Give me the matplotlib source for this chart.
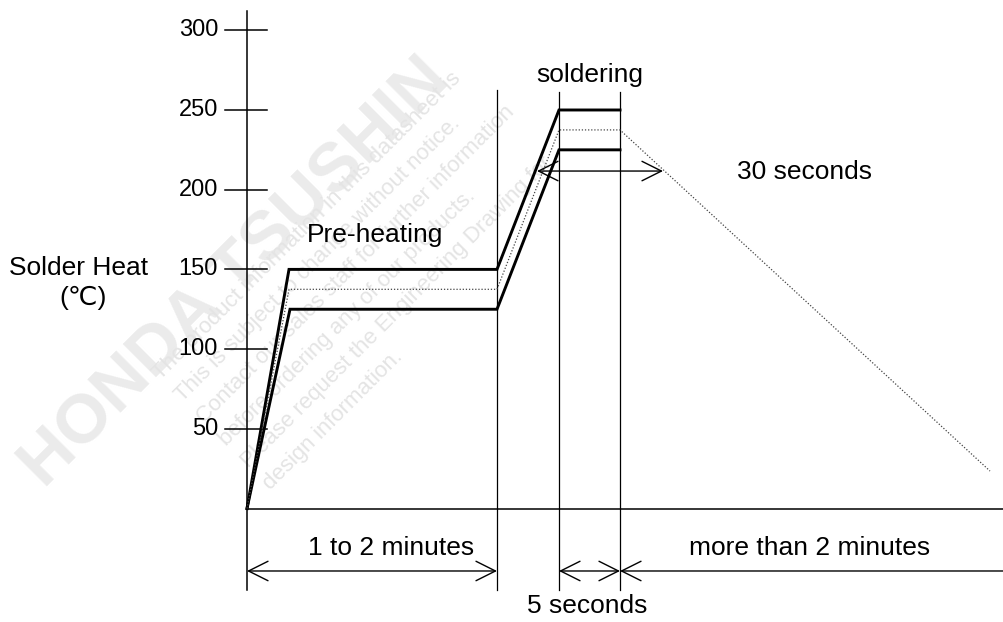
import matplotlib.pyplot as plt

plt.rcParams['font.family'] = ['Liberation Sans', 'DejaVu Sans']

# schematic time axis (not to scale), temperature in degC
upper_t = [0, 42, 250, 312, 373]
upper_T = [0, 150, 150, 250, 250]
lower_t = [0, 43, 250, 312, 373]
lower_T = [0, 125, 125, 225, 225]
mid_t = [0, 42, 250, 312, 373, 743]
mid_T = [0, 137.5, 137.5, 237.5, 237.5, 23.5]

yticks = [50, 100, 150, 200, 250, 300]
ytick_labels = ['50', '100', '150', '200', '250', '300']

# phase boundaries: preheat end, soldering start, soldering end
phase_t = [250, 312, 373]
phase_top = [262.5, 261, 261]

watermark_lines = [
    'The product information in this datasheet is',
    'This is subject to change without notice.',
    'Contact our sales staff for further information',
    'before ordering any of our products.',
    'Please request the Engineering Drawing for',
    'design information.',
]

fig = plt.figure(figsize=(10.04, 6.22), dpi=100)
ax = fig.add_axes([0, 0, 1, 1])
ax.set_xlim(-247, 757)
ax.set_ylim(-71.2, 319.0)
ax.axis('off')

# faint watermark, kept underneath everything else
ax.text(45 / 1004, 1 - 490 / 622, 'HONDA TSUSHIN', fontsize=50, fontweight='bold',
        color='#ebebeb', rotation=45, rotation_mode='anchor', ha='left', va='baseline',
        transform=fig.transFigure, zorder=0)
for i, line in enumerate(watermark_lines):
    x0 = 160 + i * 22
    y0 = 380 + i * 22
    ax.text(x0 / 1004, 1 - y0 / 622, line, fontsize=16, color='#e4e4e4',
            rotation=45, rotation_mode='anchor', ha='left', va='baseline',
            transform=fig.transFigure, zorder=0)

# axes
ax.plot([0, 0], [-51, 312], color='black', lw=1.1, zorder=3)
ax.plot([0, 757], [0, 0], color='black', lw=1.1, zorder=3)
for T, lab in zip(yticks, ytick_labels):
    ax.plot([-22, 20], [T, T], color='black', lw=1.1, zorder=3)
    ax.text(-29, T, lab, ha='right', va='center', fontsize=17, zorder=3)

# phase guides
for t, top in zip(phase_t, phase_top):
    ax.plot([t, t], [-51, top], color='black', lw=0.9, zorder=3)

# profile envelope
ax.plot(upper_t, upper_T, color='black', lw=2.1, solid_joinstyle='miter', zorder=4)
ax.plot(lower_t, lower_T, color='black', lw=2.1, solid_joinstyle='miter', zorder=4)
ax.plot(mid_t, mid_T, color='#444444', lw=0.9, linestyle=(0, (1, 1.5)), zorder=4)

arrow = dict(arrowstyle='<->,head_length=1.4,head_width=0.7', mutation_scale=10,
             color='black', lw=1.0, shrinkA=0, shrinkB=0)
arrow_one = dict(arrowstyle='->,head_length=1.4,head_width=0.7', mutation_scale=10,
                 color='black', lw=1.0, shrinkA=0, shrinkB=0)

# 30 seconds above solder temperature
ax.annotate('', xy=(416, 211.7), xytext=(290, 211.7), arrowprops=arrow, zorder=4)
# time spans below the axis
ax.annotate('', xy=(250, -39.2), xytext=(0, -39.2), arrowprops=arrow, zorder=4)
ax.annotate('', xy=(373, -39.2), xytext=(312, -39.2), arrowprops=arrow, zorder=4)
ax.annotate('', xy=(373, -39.2), xytext=(757, -39.2), arrowprops=arrow_one, zorder=4)

fs = 19
ax.text(-168, 150.9, 'Solder Heat', ha='center', va='center', fontsize=fs, zorder=4)
ax.text(-164, 132, '(\u2103)', ha='center', va='center', fontsize=fs, zorder=4)
ax.text(128, 171.6, 'Pre-heating', ha='center', va='center', fontsize=fs, zorder=4)
ax.text(343, 272, 'soldering', ha='center', va='center', fontsize=fs, zorder=4)
ax.text(558, 211, '30 seconds', ha='center', va='center', fontsize=fs, zorder=4)
ax.text(144, -24.8, '1 to 2 minutes', ha='center', va='center', fontsize=fs, zorder=4)
ax.text(563, -24.8, 'more than 2 minutes', ha='center', va='center', fontsize=fs, zorder=4)
ax.text(340, -61.2, '5 seconds', ha='center', va='center', fontsize=fs, zorder=4)

fig.savefig('out.png', dpi=100)
